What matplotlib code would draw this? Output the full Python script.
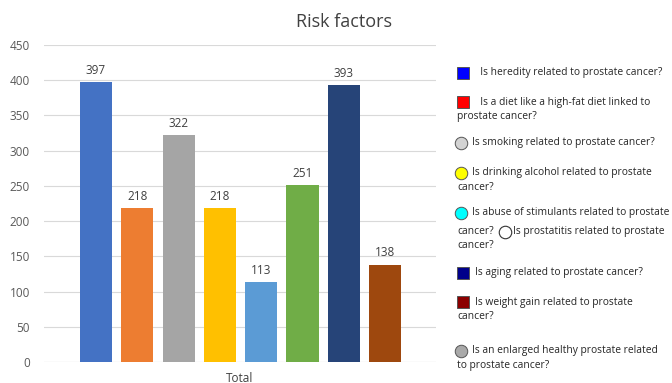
import matplotlib
matplotlib.use("Agg")
import matplotlib.pyplot as plt
import numpy as np

plt.rcParams['font.family'] = ['Open Sans', 'DejaVu Sans']

title = "Risk factors"
category = "Total"
values = [397, 218, 322, 218, 113, 251, 393, 138]
bar_colors = ["#4472C4", "#ED7D31", "#A5A5A5", "#FFC000",
              "#5B9BD5", "#70AD47", "#264478", "#9E480E"]
y_ticks = [0, 50, 100, 150, 200, 250, 300, 350, 400, 450]

# Legend entries: (marker shape, fill colour, text lines)
legend_entries = [
    ("s", "#0000FF", ["  Is heredity related to prostate cancer?"]),
    ("s", "#FF0000", ["  Is a diet like a high-fat diet linked to", "prostate cancer?"]),
    ("o", "#D3D3D3", ["Is smoking related to prostate cancer?"]),
    ("o", "#FFFF00", ["Is drinking alcohol related to prostate", "cancer?"]),
    ("o", "#00FFFF", ["Is abuse of stimulants related to prostate", "cancer?", "cancer?"]),
    ("s", "#00008B", ["Is aging related to prostate cancer?"]),
    ("s", "#8B0000", ["Is weight gain related to prostate", "cancer?"]),
    ("o", "#A9A9A9", ["Is an enlarged healthy prostate related", "to prostate cancer?"]),
]
inline_text = "Is prostatitis related to prostate"
legend_y = [73, 102, 143, 173, 213, 273, 302, 351]

W, H = 672, 383
fig = plt.figure(figsize=(W / 100, H / 100), dpi=100)
ax = fig.add_axes([44 / W, 1 - 362 / H, (436 - 44) / W, (362 - 45) / H])

x = np.arange(len(values))
ax.bar(x, values, width=0.78, color=bar_colors, zorder=3)
for xi, v in zip(x, values):
    ax.text(xi, v + 8, str(v), ha="center", va="bottom", fontsize=8.5, color="#404040")

ax.set_xlim(-1.26, len(values) - 1 + 1.23)
ax.set_ylim(0, 450)
ax.set_yticks(y_ticks)
ax.tick_params(axis="y", length=0, labelsize=8.5, labelcolor="#595959", pad=10)
ax.set_xticks([])
ax.grid(axis="y", color="#D9D9D9", linewidth=0.8, zorder=0)
for s in ax.spines.values():
    s.set_visible(False)
ax.axhline(0, color="#D9D9D9", linewidth=0.8, zorder=1)

fig.text(240 / W, 1 - 378 / H, category, ha="center", va="center", fontsize=8.5, color="#404040")
fig.text(344 / W, 1 - 22 / H, title, ha="center", va="center", fontsize=13, color="#404040")

# Custom legend
def px(xp, yp):
    return xp / W, 1 - yp / H

fs = 7.4
line_h = 14.5
for (shape, col, lines), yp in zip(legend_entries, legend_y):
    mx = 463 if shape == "s" else 461
    fig.lines.append(plt.Line2D([mx / W], [1 - yp / H], marker=shape, markersize=8 if shape == "s" else 9,
                                markerfacecolor=col, markeredgecolor="#555555", markeredgewidth=0.7,
                                transform=fig.transFigure, figure=fig))
    tx = 475 if shape == "s" else 472
    fig.text(*px(tx, yp), lines[0], ha="left", va="center", fontsize=fs, color="#262626")
    for i, ln in enumerate(lines[1:], start=1):
        fig.text(*px(457, yp + i * line_h + (4 if len(lines) == 3 else 0)), ln,
                 ha="left", va="center", fontsize=fs, color="#262626")
    if len(lines) == 3:
        y2 = yp + line_h + 4
        fig.lines.append(plt.Line2D([505 / W], [1 - y2 / H], marker="o", markersize=9,
                                    markerfacecolor="white", markeredgecolor="#333333",
                                    markeredgewidth=0.8, transform=fig.transFigure, figure=fig))
        fig.text(*px(513, y2), inline_text, ha="left", va="center", fontsize=fs, color="#262626")

fig.savefig("out.png", dpi=100)
